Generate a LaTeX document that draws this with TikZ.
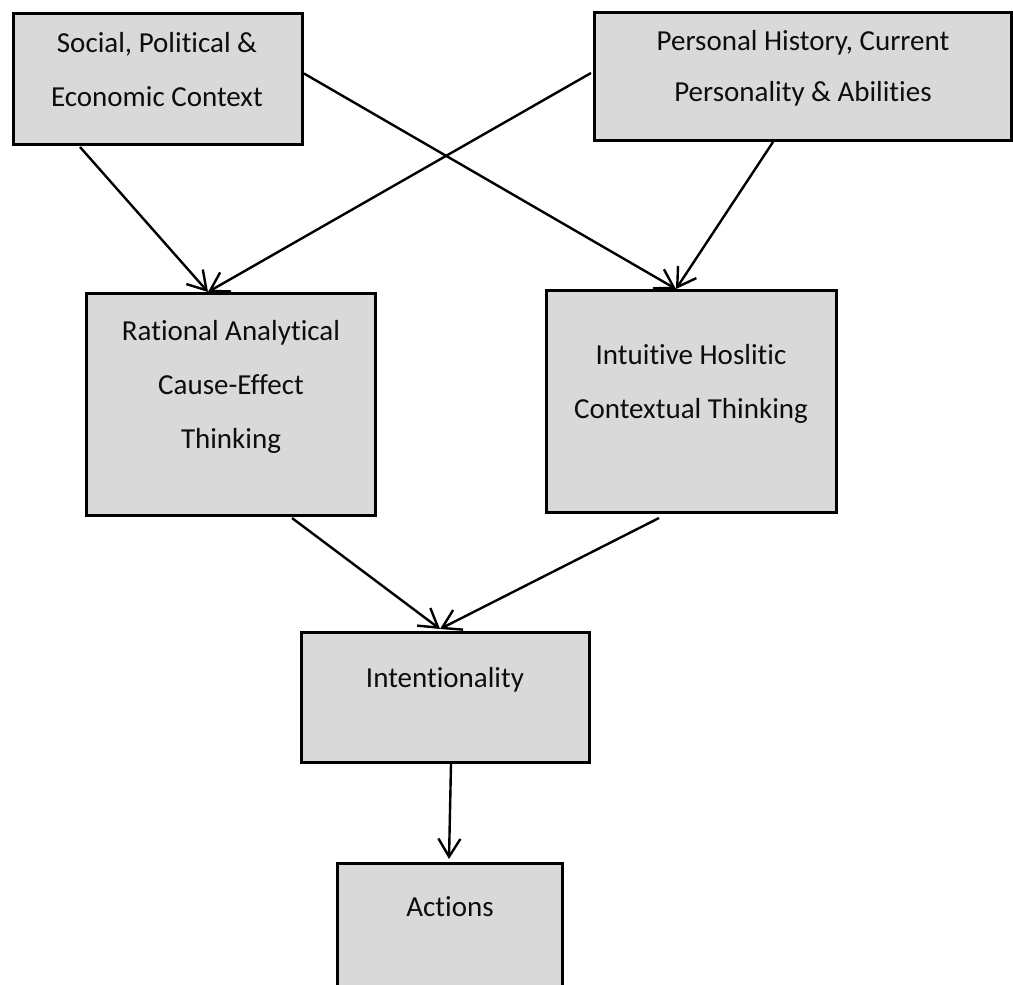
\documentclass[tikz,border=0pt]{standalone}
\usepackage{fontspec}
\setmainfont{Carlito}[Ligatures=NoCommon]
\usetikzlibrary{arrows.meta,calc}
\definecolor{boxfill}{HTML}{D9D9D9}
\tikzset{
  box/.style={draw=black, fill=boxfill, line width=3pt, inner sep=0pt, outer sep=0pt, anchor=north west},
  lbl/.style={anchor=base, inner sep=0pt, text=black!95, font=\fontsize{29}{34}\selectfont},
  arr/.style={line width=2.4pt, -{Straight Barb[length=18pt,width=22pt,line width=2.4pt]}}
}
\begin{document}
\begin{tikzpicture}[x=1pt,y=-1pt]
\useasboundingbox (0,0) rectangle (1013,985);
\clip (0,0) rectangle (1013,985);
\node[box, minimum width=289pt, minimum height=131pt] (b1) at (13,13) {};
\node[box, minimum width=417pt, minimum height=128pt] (b2) at (594,12) {};
\node[box, minimum width=289pt, minimum height=222pt] (rat) at (86,293) {};
\node[box, minimum width=290pt, minimum height=222pt] (int) at (546,290) {};
\node[box, minimum width=288pt, minimum height=130pt] (itn) at (301,632) {};
\node[box, minimum width=225pt, minimum height=140pt] (act) at (337,863) {};

\node[lbl] (t1a) at (157,52) {Social, Political \&};
\node[lbl] (t1b) at (157,106) {Economic Context};
\node[lbl] (t2a) at (803,50) {Personal History, Current};
\node[lbl] (t2b) at (803,101) {Personality \& Abilities};
\node[lbl] (t3a) at (231,340) {Rational Analytical};
\node[lbl] (t3b) at (231,394) {Cause-Effect};
\node[lbl] (t3c) at (231,448) {Thinking};
\node[lbl] (t4a) at (691,364) {Intuitive Hoslitic};
\node[lbl] (t4b) at (691,418) {Contextual Thinking};
\node[lbl] (t5) at (445,687) {Intentionality};
\node[lbl] (t6) at (450,916) {Actions};

\draw[arr] ([shift={(67,3)}]b1.south west) -- ([shift={(122,-1)}]rat.north west);
\draw[arr] ([shift={(-3,-3)}]b2.west) -- ([shift={(122,-1)}]rat.north west);
\draw[arr] ([shift={(2,-5)}]b1.east) -- ([shift={(130,-1)}]int.north west);
\draw[arr] ([shift={(179,2)}]b2.south west) -- ([shift={(130,-1)}]int.north west);
\draw[arr] ([shift={(206,3)}]rat.south west) -- ([shift={(139,-3)}]itn.north west);
\draw[arr] ([shift={(113,6)}]int.south west) -- ([shift={(139,-3)}]itn.north west);
\draw[arr] ([shift={(150,2)}]itn.south west) -- ([shift={(112,-4)}]act.north west);
\end{tikzpicture}
\end{document}
